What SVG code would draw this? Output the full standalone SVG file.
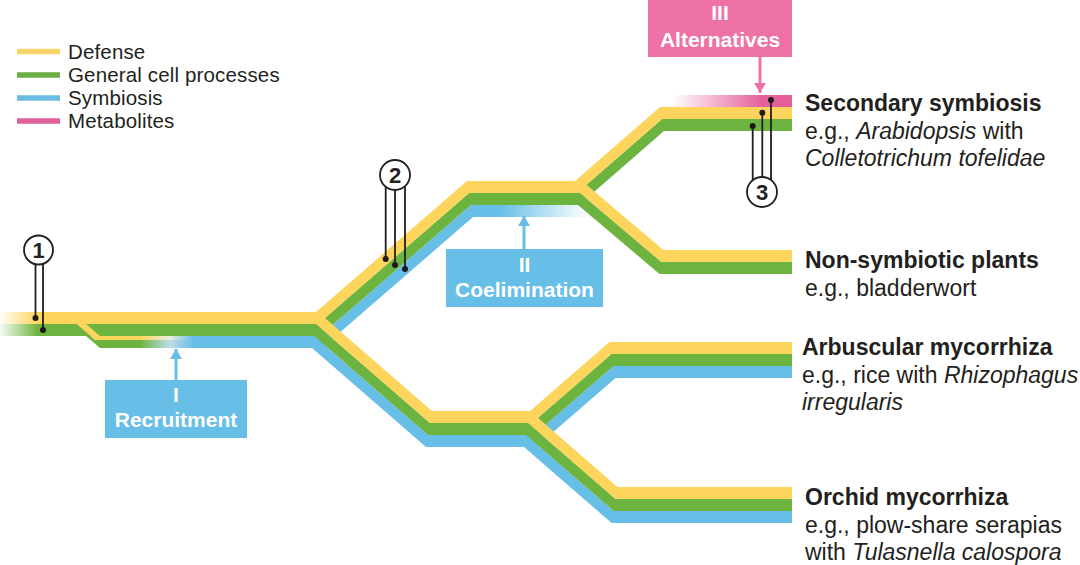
<svg xmlns="http://www.w3.org/2000/svg" width="1080" height="565" viewBox="0 0 1080 565">
<defs>
<style>
.y{fill:#FDD55C}.g{fill:#6DB33F}.b{fill:#67BEE7}.p{fill:#E5609B}
.t{font-family:"Liberation Sans",Arial,sans-serif;fill:#231F20}
.lg{font-size:20.5px;letter-spacing:0.15px}
.h{font-size:23px;font-weight:bold}
.r{font-size:23px}
.i{font-style:italic}
.bx{font-family:"Liberation Sans",Arial,sans-serif;font-size:21px;font-weight:bold;fill:#fff;text-anchor:middle}
.num{font-family:"Liberation Sans",Arial,sans-serif;font-size:22px;font-weight:bold;fill:#231F20;text-anchor:middle}
.ring{fill:#fff;stroke:#231F20;stroke-width:1.8}
.pin{stroke:#231F20;stroke-width:1.8;fill:none}
.dot{fill:#1E1A1B}
.leg{stroke-width:5.5}
</style>
<linearGradient id="fadeY" gradientUnits="userSpaceOnUse" x1="0" y1="0" x2="38" y2="0"><stop offset="0" stop-color="#FDD55C" stop-opacity="0.05"/><stop offset="1" stop-color="#FDD55C"/></linearGradient>
<linearGradient id="fadeG" gradientUnits="userSpaceOnUse" x1="0" y1="0" x2="38" y2="0"><stop offset="0" stop-color="#6DB33F" stop-opacity="0.05"/><stop offset="1" stop-color="#6DB33F"/></linearGradient>
<linearGradient id="recY" gradientUnits="userSpaceOnUse" x1="140" y1="0" x2="194" y2="0"><stop offset="0" stop-color="#FDD55C"/><stop offset="0.55" stop-color="#E9EEDC"/><stop offset="1" stop-color="#67BEE7"/></linearGradient>
<linearGradient id="recG" gradientUnits="userSpaceOnUse" x1="140" y1="0" x2="194" y2="0"><stop offset="0" stop-color="#6DB33F"/><stop offset="0.55" stop-color="#BFDDE6"/><stop offset="1" stop-color="#67BEE7"/></linearGradient>
<linearGradient id="coel" gradientUnits="userSpaceOnUse" x1="500" y1="0" x2="588" y2="0"><stop offset="0" stop-color="#67BEE7"/><stop offset="1" stop-color="#67BEE7" stop-opacity="0"/></linearGradient>
<linearGradient id="alt" gradientUnits="userSpaceOnUse" x1="672" y1="0" x2="762" y2="0"><stop offset="0" stop-color="#E5609B" stop-opacity="0"/><stop offset="1" stop-color="#E5609B"/></linearGradient>
<marker id="headB" markerUnits="userSpaceOnUse" markerWidth="10" markerHeight="12" refX="10" refY="6" orient="auto"><path d="M0,0 L10,6 L0,12 z" fill="#67BEE7"/></marker>
<marker id="headP" markerUnits="userSpaceOnUse" markerWidth="10" markerHeight="12" refX="10" refY="6" orient="auto"><path d="M0,0 L10,6 L0,12 z" fill="#EE72A6"/></marker>
</defs>
<rect width="1080" height="565" fill="#fff"/>

<g id="legend">
<line class="leg" x1="17" y1="51.5" x2="60" y2="51.5" stroke="#F7D46A"/>
<line class="leg" x1="17" y1="75" x2="60" y2="75" stroke="#6AAE45"/>
<line class="leg" x1="17" y1="98" x2="60" y2="98" stroke="#6CBBE2"/>
<line class="leg" x1="17" y1="121" x2="60" y2="121" stroke="#DD609B"/>
<text class="t lg" x="68" y="58.5">Defense</text>
<text class="t lg" x="68" y="82">General cell processes</text>
<text class="t lg" x="68" y="105">Symbiosis</text>
<text class="t lg" x="68" y="128">Metabolites</text>
</g>

<g id="lineages">
<!-- blue layer -->
<polygon class="b" points="195,336 314,336 428,435 534,435 613.5,366 792,366 792,378 615.5,378 536,447 426,447 312,348 195,348"/>
<polygon class="b" points="440,435 526,435 613.6,511 792,511 792,523 611.6,523 524,447 440,447"/>
<polygon fill="url(#coel)" points="300,336 320,336 471,205 592,205 592,217 473,217 322,348 300,348"/>
<!-- green layer -->
<rect x="0" y="324" width="300" height="12" fill="url(#fadeG)"/>
<polygon class="g" points="290,324 318,324 469,193 577,193 662,119 792,119 792,131 664,131 579,205 471,205 320,336 290,336"/>
<polygon class="g" points="500,193 580,193 661.5,262 792,262 792,274 659.5,274 578,205 500,205"/>
<polygon class="g" points="290,324 316,324 430,423 532,423 611.5,354 792,354 792,366 613.5,366 534,435 428,435 314,336 290,336"/>
<polygon class="g" points="440,423 528,423 615.6,499 792,499 792,511 613.6,511 526,435 440,435"/>
<!-- recruitment copy -->
<polygon fill="url(#recG)" points="76.6,324 95.3,340 196,340 196,348 100,348 86,336 76.6,336"/>
<polygon fill="url(#recY)" points="76.6,324 86,324 100,336 196,336 196,340 95.3,340"/>
<!-- yellow layer -->
<rect x="0" y="312" width="300" height="12" fill="url(#fadeY)"/>
<polygon class="y" points="290,312 316,312 467,181 575,181 660,107 792,107 792,119 662,119 577,193 469,193 318,324 290,324"/>
<polygon class="y" points="500,181 582,181 663.5,250 792,250 792,262 661.5,262 580,193 500,193"/>
<polygon class="y" points="290,312 318,312 432,411 530,411 609.5,342 792,342 792,354 611.5,354 532,423 430,423 316,324 290,324"/>
<polygon class="y" points="440,411 530,411 617.6,487 792,487 792,499 615.6,499 528,423 440,423"/>
<!-- metabolites -->
<rect x="672" y="95" width="120" height="12" fill="url(#alt)"/>
</g>

<g id="box-recruitment">
<rect x="105" y="380" width="142" height="58" fill="#67BEE7"/>
<text class="bx" x="176" y="402">I</text>
<text class="bx" x="176" y="427">Recruitment</text>
</g>
<g id="box-coelimination">
<rect x="446" y="249" width="157" height="58" fill="#67BEE7"/>
<text class="bx" x="524.5" y="272">II</text>
<text class="bx" x="524.5" y="297">Coelimination</text>
</g>
<g id="box-alternatives">
<rect x="648" y="-2" width="144" height="59" fill="#EE72A6"/>
<text class="bx" x="720" y="20">III</text>
<text class="bx" x="720" y="47">Alternatives</text>
</g>

<g id="connectors">
<line x1="176" y1="380" x2="176" y2="349" stroke="#67BEE7" stroke-width="3" marker-end="url(#headB)"/>
<line x1="524" y1="249" x2="524" y2="216" stroke="#67BEE7" stroke-width="3" marker-end="url(#headB)"/>
<line x1="760" y1="57" x2="760" y2="93" stroke="#EE72A6" stroke-width="3" marker-end="url(#headP)"/>
<path class="pin" d="M35.5,264 V318 M43,263 V330"/>
<path class="pin" d="M385.7,187 V259 M395,190 V265 M405,186 V269"/>
<path class="pin" d="M752.7,126 V180 M762.3,112.7 V177 M771,100 V180"/>
<circle class="dot" cx="35.5" cy="318" r="3"/>
<circle class="dot" cx="43" cy="330" r="3"/>
<circle class="dot" cx="385.7" cy="259" r="3"/>
<circle class="dot" cx="395" cy="265" r="3"/>
<circle class="dot" cx="405" cy="269" r="3"/>
<circle class="dot" cx="752.7" cy="126" r="3"/>
<circle class="dot" cx="762.3" cy="112.7" r="3"/>
<circle class="dot" cx="771" cy="100" r="3"/>
</g>

<g id="step-1">
<circle class="ring" cx="38.5" cy="250" r="14.5"/>
<text class="num" x="38.5" y="258">1</text>
</g>
<g id="step-2">
<circle class="ring" cx="395" cy="175" r="15"/>
<text class="num" x="395" y="183">2</text>
</g>
<g id="step-3">
<circle class="ring" cx="762" cy="192" r="15"/>
<text class="num" x="762" y="200">3</text>
</g>

<g id="label-secondary">
<text class="t h" x="805" y="111">Secondary symbiosis</text>
<text class="t r" x="805" y="138.5">e.g., <tspan class="i">Arabidopsis</tspan> with</text>
<text class="t r i" x="805" y="166">Colletotrichum tofelidae</text>
</g>
<g id="label-nonsymbiotic">
<text class="t h" x="805" y="268">Non-symbiotic plants</text>
<text class="t r" x="805" y="296">e.g., bladderwort</text>
</g>
<g id="label-arbuscular">
<text class="t h" x="802" y="355">Arbuscular mycorrhiza</text>
<text class="t r" x="802" y="383">e.g., rice with <tspan class="i">Rhizophagus</tspan></text>
<text class="t r i" x="802" y="410">irregularis</text>
</g>
<g id="label-orchid">
<text class="t h" x="805" y="505">Orchid mycorrhiza</text>
<text class="t r" x="805" y="533">e.g., plow-share serapias</text>
<text class="t r" x="805" y="560">with <tspan class="i">Tulasnella calospora</tspan></text>
</g>
</svg>
